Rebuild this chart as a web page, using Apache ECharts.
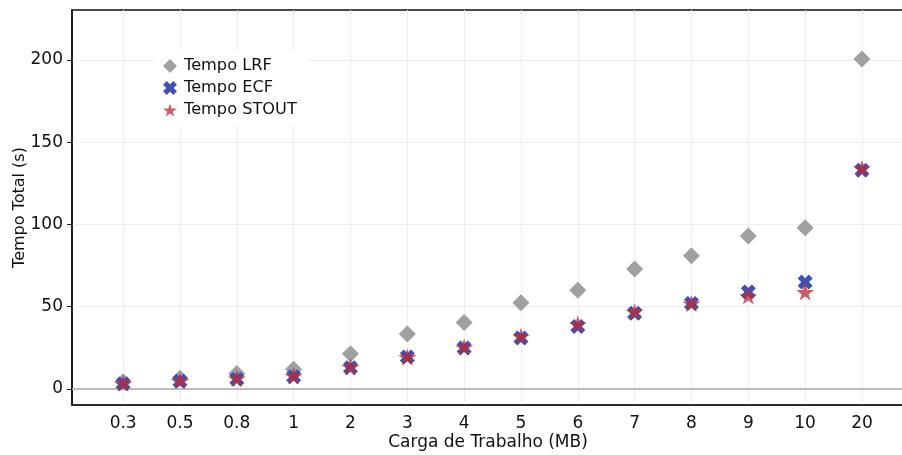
<!DOCTYPE html>
<html>
<head>
<meta charset="utf-8">
<script src="https://cdn.jsdelivr.net/npm/echarts@6/dist/echarts.min.js"></script>
<style>html,body{margin:0;padding:0;background:#fff}#c{width:902px;height:455px}</style>
</head>
<body>
<div id="c"></div>
<script>
var categories = ['0.3','0.5','0.8','1','2','3','4','5','6','7','8','9','10','20'];
var tempoLRF = [4.5, 6.5, 9.5, 12, 21.5, 33.5, 40.5, 52.5, 60, 73, 81, 93, 98, 200.5];
var tempoECF = [3.2, 4.8, 6, 7.5, 13, 19.5, 25, 31, 38, 46, 52, 59, 65, 133];
var tempoSTOUT = [3.5, 5, 6.5, 8, 13.5, 19.5, 25.5, 32, 39.5, 47, 52, 56.5, 59, 134];
var yTicks = [0, 50, 100, 150, 200];

function pts(arr){ return arr.map(function(v,i){ return [i, v]; }); }
var xTickIdx = categories.map(function(c,i){ return i; });

var X_PATH = 'path://M0,2.6 L2.6,0 L5,2.4 L7.4,0 L10,2.6 L7.6,5 L10,7.4 L7.4,10 L5,7.6 L2.6,10 L0,7.4 L2.4,5 Z';
var STAR_PATH = 'path://M50,0 L61.8,35.3 L98.1,35.3 L68.8,57.1 L79.4,90.5 L50,69.1 L20.6,90.5 L31.2,57.1 L1.9,35.3 L38.2,35.3 Z';
var FONT = 'DejaVu Sans';

var chart = echarts.init(document.getElementById('c'), null, {renderer:'canvas'});
chart.setOption({
  animation: false,
  backgroundColor: '#fff',
  textStyle: {fontFamily: FONT},
  grid: {left: 72, right: -2, top: 10, bottom: 50, outerBoundsMode: 'none', containLabel: false,
         show: true, borderColor: '#111', borderWidth: 1.5, backgroundColor: 'transparent'},
  legend: {
    orient: 'vertical', left: 155, top: 50, padding: [8, 10, 8, 8],
    backgroundColor: '#fff', itemWidth: 14, itemHeight: 14, itemGap: 6,
    textStyle: {fontFamily: FONT, fontSize: 16.2, color: '#111', padding: [0, 0, 0, 2]},
    data: ['Tempo LRF', 'Tempo ECF', 'Tempo STOUT']
  },
  xAxis: {
    type: 'value', min: -0.9, max: 13.74, splitNumber: 14,
    name: 'Carga de Trabalho (MB)', nameLocation: 'middle', nameGap: 29, nameMoveOverlap: false,
    nameTextStyle: {fontFamily: FONT, fontSize: 17, color: '#111'},
    axisLine: {show: true, onZero: false, lineStyle: {color: '#222', width: 1.5}},
    axisTick: {show: false, customValues: xTickIdx},
    axisLabel: {
      fontFamily: FONT, fontSize: 17, color: '#111', margin: 10,
      customValues: xTickIdx,
      formatter: function(v){ var r = Math.round(v); return (Math.abs(v - r) < 1e-6 && categories[r] !== undefined) ? categories[r] : ''; }
    },
    splitLine: {show: true, lineStyle: {color: '#eeeeee', width: 1}}
  },
  yAxis: {
    type: 'value', min: -9.7, max: 230.3, splitNumber: 5,
    name: 'Tempo Total (s)', nameLocation: 'middle', nameGap: 44, nameMoveOverlap: false,
    nameTextStyle: {fontFamily: FONT, fontSize: 16, color: '#111'},
    axisLine: {show: true, onZero: false, lineStyle: {color: '#111', width: 1.5}},
    axisTick: {show: true, length: 5, customValues: yTicks, lineStyle: {color: '#222', width: 1}},
    axisLabel: {
      fontFamily: FONT, fontSize: 17, color: '#111', margin: 9,
      customValues: yTicks,
      formatter: function(v){ return yTicks.indexOf(v) >= 0 ? String(v) : ''; }
    },
    splitLine: {show: true, lineStyle: {color: '#eeeeee', width: 1}}
  },
  series: [
    {
      name: 'Tempo LRF', type: 'scatter', symbol: 'diamond', symbolSize: [17, 17],
      itemStyle: {color: '#a0a0a0', opacity: 1},
      data: pts(tempoLRF), z: 2,
      markLine: {
        silent: true, symbol: ['none', 'none'], label: {show: false},
        lineStyle: {color: '#aaaaaa', width: 1.5, type: 'solid'},
        data: [{yAxis: 0}], z: 1
      }
    },
    {
      name: 'Tempo ECF', type: 'scatter', symbol: X_PATH, symbolSize: [15, 15],
      itemStyle: {color: '#4251b0', opacity: 1},
      data: pts(tempoECF), z: 3
    },
    {
      name: 'Tempo STOUT', type: 'scatter', symbol: STAR_PATH, symbolSize: [18, 17],
      itemStyle: {color: 'rgba(190,40,50,0.75)', opacity: 1},
      data: pts(tempoSTOUT), z: 4
    }
  ]
});
</script>
</body>
</html>
